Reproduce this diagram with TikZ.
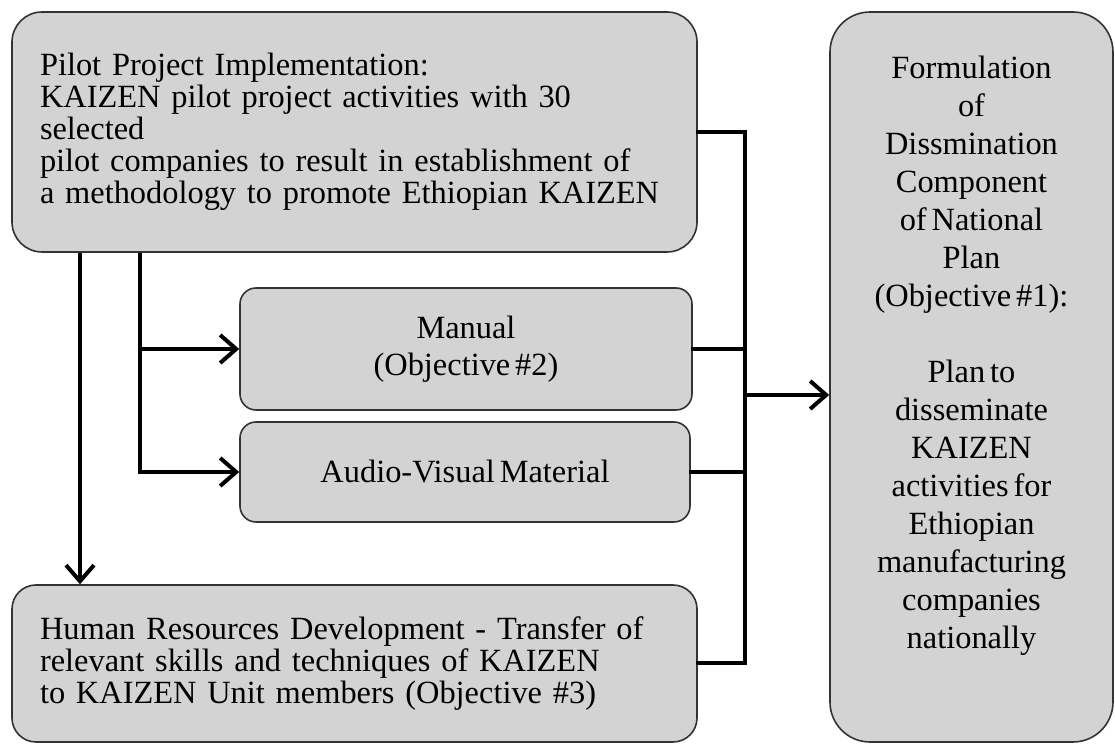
\documentclass[tikz,border=0pt]{standalone}
\usepackage{fontspec}
\setmainfont{Liberation Serif}[WordSpace=0.6]
\usepackage{tikz}
\usetikzlibrary{arrows.meta, positioning}
\definecolor{boxFill}{HTML}{D3D3D3}
\definecolor{boxFrame}{HTML}{333333}

\begin{document}
\begin{tikzpicture}[x=0.5pt, y=-0.5pt,
    box/.style={draw=boxFrame, line width=0.8pt, fill=boxFill, inner sep=0pt,
        font=\fontsize{16.2}{16}\selectfont},
    conn/.style={line width=2pt, line cap=rect},
    arrow/.style={line width=2pt, -{Straight Barb[length=8pt, width=14pt, line width=2pt]}}]
    \useasboundingbox[fill=white] (0,0) rectangle (1115,747);
    \node[box, rounded corners=15pt, minimum width=342.5pt, minimum height=120pt,
        text width=314.5pt, align=left] (pilot) at (354.5,132)
        {Pilot Project Implementation:\\
         KAIZEN pilot project activities with 30\\
         selected\\
         pilot companies to result in establishment of\\
         a methodology to promote Ethiopian KAIZEN};
    \node[box, rounded corners=8pt, minimum width=226pt, minimum height=61pt,
        align=center, font=\fontsize{16.2}{18.5}\selectfont] (manual) at (466,349)
        {Manual\\(Objective \#2)};
    \node[box, rounded corners=8pt, minimum width=225pt, minimum height=50pt,
        align=center] (av) at (465,472) {Audio-Visual Material};
    \node[box, rounded corners=12pt, minimum width=342.5pt, minimum height=78.5pt,
        text width=314.5pt, align=left] (hrd) at (354.5,663.5)
        {Human Resources Development - Transfer of\\
         relevant skills and techniques of KAIZEN\\
         to KAIZEN Unit members (Objective \#3)};
    \node[box, rounded corners=20pt, minimum width=141.5pt, minimum height=365pt,
        align=center, font=\fontsize{16.2}{19}\selectfont] (plan) at (971.5,377)
        {Formulation\\ of\\ Dissmination\\ Component\\ of National\\ Plan\\
         (Objective \#1):\\[19pt]
         Plan to\\ disseminate\\ KAIZEN\\ activities for\\ Ethiopian\\
         manufacturing\\ companies\\ nationally\\[6pt]};
    \coordinate (bus) at (745,395);
    \coordinate (lft) at (80,0);
    \coordinate (brn) at (140,0);
    \draw[conn] (pilot.east) -| (bus);
    \draw[conn] (hrd.east) -| (bus);
    \draw[conn] (manual.east) -- (manual.east -| bus);
    \draw[conn] (av.east) -- (av.east -| bus);
    \draw[arrow] (bus) -- (plan.west |- bus);
    \draw[arrow] (pilot.south -| lft) -- (hrd.north -| lft);
    \draw[arrow] (pilot.south -| brn) |- (manual.west);
    \draw[arrow] (pilot.south -| brn) |- (av.west);
\end{tikzpicture}
\end{document}
